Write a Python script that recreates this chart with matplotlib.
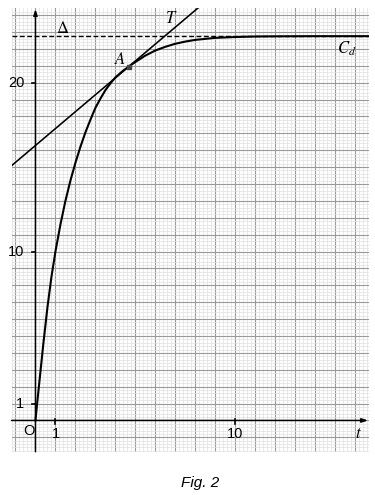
import matplotlib
matplotlib.use("Agg")
import matplotlib.pyplot as plt
import numpy as np

plt.rcParams['font.family'] = ['Liberation Sans', 'DejaVu Sans']
plt.rcParams['mathtext.fontset'] = 'stix'

# courbe C_d
t = [0, 0.1, 0.25, 0.4, 0.6, 0.8, 1.0, 1.25, 1.5, 1.75, 2.0, 2.25, 2.5, 2.75,
     3.0, 3.25, 3.5, 3.75, 4.0, 4.33, 4.67, 5.0, 5.5, 6.0, 6.5, 7.0, 7.5, 8.0,
     9.0, 10.0, 11.0, 12.0, 14.0, 16.7]
v = [0, 1.2, 2.9, 4.6, 6.7, 8.5, 10.0, 11.6, 13.0, 14.2, 15.25, 16.2, 17.05, 17.8,
     18.5, 19.05, 19.55, 19.95, 20.3, 20.65, 20.95, 21.22, 21.6, 21.9, 22.12, 22.3, 22.43, 22.53,
     22.65, 22.7, 22.73, 22.74, 22.75, 22.75]

# point A, pente de la tangente T, asymptote Delta
tA, vA = 4.67, 20.95
pente = 1.0
vlim = 22.75

xticks_lab = [1, 10]
yticks_lab = [1, 10, 20]

xmin, xmax = -1.2, 16.7
ymin, ymax = -1.85, 24.4

fig = plt.figure(figsize=(3.75, 4.95), dpi=100)
ax = fig.add_axes([11.5/375, 43.3/495, 357.5/375, 443.4/495])
ax.set_xlim(xmin, xmax)
ax.set_ylim(ymin, ymax)

# papier millimetre
ax.set_xticks(np.arange(-1, 17, 1))
ax.set_xticks(np.arange(-1.2, 16.8, 0.2), minor=True)
ax.set_yticks(np.arange(-1, 25, 1))
ax.set_yticks(np.arange(-1.8, 24.4, 0.2), minor=True)
ax.grid(which='major', color='#9a9a9a', lw=0.8)
ax.grid(which='minor', color='#e0e0e0', lw=0.5)
ax.set_axisbelow(True)
ax.tick_params(which='both', length=0, labelbottom=False, labelleft=False)
for s in ax.spines.values():
    s.set_visible(False)

# axes avec fleches
ax.annotate('', xy=(xmax - 0.05, 0), xytext=(xmin, 0),
            arrowprops=dict(arrowstyle='-|>,head_length=0.35,head_width=0.12',
                            lw=1.1, color='k', shrinkA=0, shrinkB=0))
ax.annotate('', xy=(0, ymax - 0.05), xytext=(0, ymin),
            arrowprops=dict(arrowstyle='-|>,head_length=0.35,head_width=0.12',
                            lw=1.1, color='k', shrinkA=0, shrinkB=0))

for xt in xticks_lab:
    ax.plot([xt, xt], [-0.2, 0.1], color='k', lw=1.2)
    ax.text(xt, -0.8, str(xt), ha='center', va='center', fontsize=10.5)
for yt in yticks_lab:
    ax.plot([-0.17, 0], [yt, yt], color='k', lw=1.2)
    ax.text(-0.55, yt, str(yt), ha='right', va='center', fontsize=10.5)
ax.text(-0.35, -0.65, 'O', ha='center', va='center', fontsize=10.5)
ax.text(16.15, -0.75, '$t$', ha='center', va='center', fontsize=12)

# asymptote
ax.axhline(vlim, color='k', lw=1.0, ls=(0, (3.5, 1.8)))

# tangente
tt = np.array([xmin, xmax])
ax.plot(tt, vA + pente*(tt - tA), color='k', lw=1.15)

# courbe
ax.plot(t, v, color='k', lw=1.5)
ax.plot(tA, vA, 's', color='#444444', ms=3)

ax.text(1.35, 23.25, r'$\Delta$', ha='center', va='center', fontsize=12)
ax.text(6.8, 23.85, '$T$', ha='center', va='center', fontsize=12)
ax.text(4.25, 21.4, '$A$', ha='center', va='center', fontsize=12)
ax.text(15.6, 22.0, '$C_d$', ha='center', va='center', fontsize=12)

fig.text(200/375, 1 - 483/495, 'Fig. 2', ha='center', va='center',
         fontsize=11, style='italic')

fig.savefig('out.png', dpi=100)
